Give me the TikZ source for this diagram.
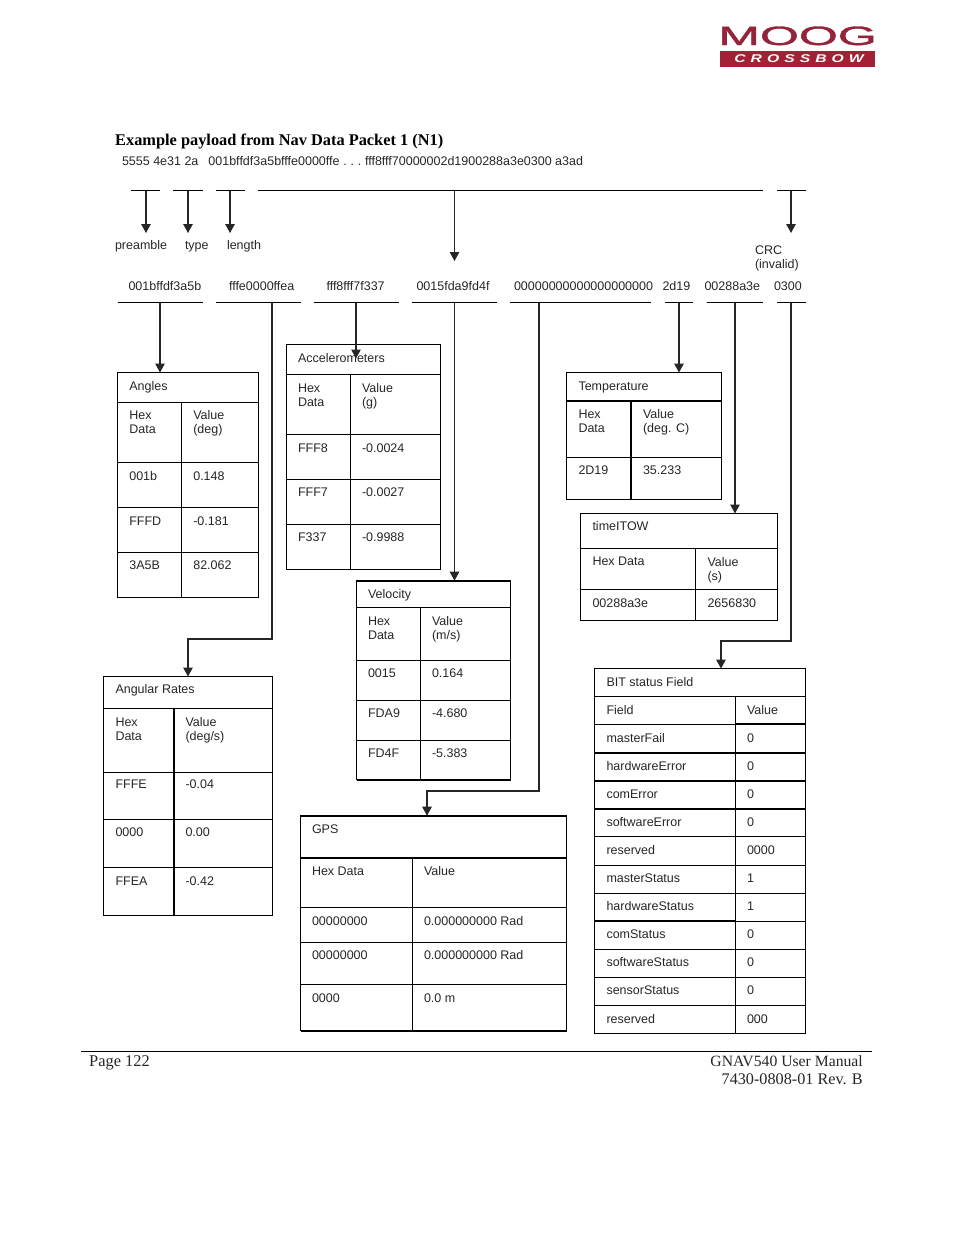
\documentclass[tikz,border=0pt]{standalone}
\usepackage{fontspec}
\usepackage{graphicx}
\setmainfont{Liberation Sans}
\newfontfamily\capfont{Liberation Serif}
\newfontfamily\moogfont[FakeBold=1.2]{Liberation Sans}
\newfontfamily\logofont[LetterSpace=32]{Liberation Sans}
\usetikzlibrary{arrows.meta}
\definecolor{inkc}{HTML}{262626}
\definecolor{logored}{HTML}{A32035}
\definecolor{moogred}{HTML}{94243A}
\tikzset{
  txt/.style={anchor=base west,inner sep=0pt,outer sep=0pt,text=inkc,align=left,font=\fontsize{12.5}{14}\selectfont},
  tbl/.style={draw=black,line width=1.1pt,inner sep=0pt,outer sep=0pt,anchor=north west},
  rule/.style={draw=black,line width=1.1pt},
  heavy/.style={draw=black,line width=2pt},
  busline/.style={draw=black,line width=1.2pt},
  conn/.style={draw=black!85,line width=1.25pt},
  arr/.style={conn,-{Triangle[width=9.5pt,length=9pt]}},
  titlefont/.style={anchor=base west,inner sep=0pt,font=\capfont\bfseries\fontsize{16.35}{18}\selectfont},
  footfont/.style={inner sep=0pt,text=inkc}
}
% table frame: name, x0, y0, x1, y1
\newcommand{\tframe}[6][]{\node[tbl,#1,minimum width={(#4-#2)*1pt},minimum height={(#5-#3)*1pt}] (#6) at (#2,#3) {};}
\newcommand{\rowl}[3][rule]{\draw[#1] (#2.west |- 0,#3) -- (#2.east |- 0,#3);}
% column line: table, x, y of its top end
\newcommand{\coll}[4][rule]{\draw[#1] (#3,#4) -- (#2.south -| #3,0);}
% cell: name, x, baseline y, text
\newcommand{\cellt}[4]{\node[txt] (#1) at (#2,#3) {#4};}
% bus bar: name, y, x-left, x-right, x-drop
\newcommand{\busbar}[5]{\coordinate (#1-l) at (#3,#2);\coordinate (#1-r) at (#4,#2);\coordinate (#1-o) at (#5,#2);\draw[busline] (#1-l) -- (#1-r);}
\begin{document}
\begin{tikzpicture}[x=1pt,y=-1pt]
\useasboundingbox (0,0) rectangle (954,1235);
% logo
\node[inner sep=0pt,anchor=base,text=moogred,font=\moogfont\fontsize{26.5}{28}\selectfont] (logoa) at (797.5,45) {\scalebox{1.89}[1]{MOOG}};
\node[fill=logored,inner sep=0pt,outer sep=0pt,anchor=north west,minimum width=155pt,minimum height=16pt] (logob) at (720,50.5) {};
\node[inner sep=0pt,anchor=base,text=white,font=\logofont\bfseries\itshape\fontsize{11.2}{12}\selectfont] (logoc) at (799,62) {\scalebox{1.4}[1]{CROSSBOW}};
% heading
\node[titlefont] (head) at (115,145) {Example payload from Nav Data Packet 1 (N1)};
\cellt{payload}{122}{165}{5555 4e31 2a\hspace{10pt}001bffdf3a5bfffe0000ffe\hspace{3.75pt}.\hspace{3.75pt}.\hspace{3.75pt}.\hspace{3.75pt}fff8fff70000002d1900288a3e0300 a3ad}
% upper bars
\busbar{ua}{190.5}{131}{160}{146}
\busbar{ub}{190.5}{173}{202.5}{188}
\busbar{uc}{190.5}{215.5}{244.5}{230}
\busbar{ud}{190.5}{258}{763}{454.5}
\busbar{ue}{190.5}{777}{806}{791}
\cellt{lpre}{115}{249}{preamble}
\cellt{ltyp}{185}{249}{type}
\cellt{llen}{227}{249}{length}
\cellt{lcrc}{755}{268.3}{CRC\\(invalid)}
\coordinate (ta) at (146,233);\coordinate (tb) at (188,233);\coordinate (tc) at (230,233);
\coordinate (td) at (454.5,261);\coordinate (te) at (791,233);
\draw[arr] (ua-o) -- (ta);
\draw[arr] (ub-o) -- (tb);
\draw[arr] (uc-o) -- (tc);
\draw[arr] (ud-o) -- (td);
\draw[arr] (ue-o) -- (te);
% hex row
\cellt{ha}{128.5}{290}{001bffdf3a5b}
\cellt{hb}{229}{290}{fffe0000ffea}
\cellt{hc}{326.5}{290}{fff8fff7f337}
\cellt{hd}{416.5}{290}{0015fda9fd4f}
\cellt{he}{514}{290}{00000000000000000000}
\cellt{hf}{662.5}{290}{2d19}
\cellt{hg}{704.5}{290}{00288a3e}
\cellt{hh}{774}{290}{0300}
% lower bars
\busbar{la}{302.7}{117.5}{202.5}{160}
\busbar{lb}{302.7}{216}{301}{272}
\busbar{lc}{302.7}{313.5}{399}{356}
\busbar{ld}{302.7}{412}{497}{454.5}
\busbar{le}{302.7}{510}{651}{539}
\busbar{lf}{302.7}{664.5}{693}{679}
\busbar{lg}{302.7}{706.5}{763}{735}
\busbar{lh}{302.7}{777}{806}{791}
% Angles
\tframe{117.5}{372.5}{258.5}{597.5}{angles}
\rowl{angles}{402.5}\rowl{angles}{462.5}\rowl{angles}{507.5}\rowl{angles}{552.5}\coll{angles}{181.5}{402.5}
\cellt{an0}{129.3}{390}{Angles}
\cellt{an1}{129.3}{433.5}{Hex\\Data}\cellt{an2}{193.3}{433.5}{Value\\(deg)}
\cellt{an3}{129.3}{480}{001b}\cellt{an4}{193.3}{480}{0.148}
\cellt{an5}{129.3}{525}{FFFD}\cellt{an6}{193.3}{525}{-0.181}
\cellt{an7}{129.3}{569}{3A5B}\cellt{an8}{193.3}{569}{82.062}
% Accelerometers
\tframe{286.5}{344.5}{440.5}{569.5}{accel}
\rowl{accel}{374.5}\rowl{accel}{434.5}\rowl{accel}{479.5}\rowl{accel}{524.5}\coll{accel}{350.5}{374.5}
\cellt{ac0}{298}{362}{Accelerometers}
\cellt{ac1}{298}{406}{Hex\\Data}\cellt{ac2}{362}{406}{Value\\(g)}
\cellt{ac3}{298}{452}{FFF8}\cellt{ac4}{362}{452}{-0.0024}
\cellt{ac5}{298}{496}{FFF7}\cellt{ac6}{362}{496}{-0.0027}
\cellt{ac7}{298}{541.5}{F337}\cellt{ac8}{362}{541.5}{-0.9988}
% Velocity
\tframe{356.5}{580.7}{510.5}{779.7}{veloc}
\rowl[heavy]{veloc}{580.7}\rowl[heavy]{veloc}{779.7}
\rowl{veloc}{607.5}\rowl{veloc}{660.5}\rowl{veloc}{700.5}\rowl{veloc}{740.5}\coll{veloc}{420.5}{607.5}
\cellt{ve0}{368}{598}{Velocity}
\cellt{ve1}{368}{639}{Hex\\Data}\cellt{ve2}{432}{639}{Value\\(m/s)}
\cellt{ve3}{368}{677.7}{0015}\cellt{ve4}{432}{677.7}{0.164}
\cellt{ve5}{368}{717}{FDA9}\cellt{ve6}{432}{717}{-4.680}
\cellt{ve7}{368}{757}{FD4F}\cellt{ve8}{432}{757}{-5.383}
% Angular rates
\tframe{103.5}{676.5}{272.5}{915.5}{rates}
\rowl{rates}{708.5}\rowl{rates}{772.5}\rowl{rates}{819.5}\rowl{rates}{867.5}\coll[heavy]{rates}{173.7}{708.5}
\cellt{ra0}{115.5}{693}{Angular Rates}
\cellt{ra1}{115.5}{740}{Hex\\Data}\cellt{ra2}{185.5}{740}{Value\\(deg/s)}
\cellt{ra3}{115.5}{788}{FFFE}\cellt{ra4}{185.5}{788}{-0.04}
\cellt{ra5}{115.5}{836.7}{0000}\cellt{ra6}{185.5}{836.7}{0.00}
\cellt{ra7}{115.5}{885}{FFEA}\cellt{ra8}{185.5}{885}{-0.42}
% Temperature
\tframe{566.5}{372.5}{721.5}{499.5}{temper}
\rowl[heavy]{temper}{401}\rowl{temper}{457.5}\coll[heavy]{temper}{631}{401}
\cellt{te0}{578.5}{390}{Temperature}
\cellt{te1}{578.5}{432}{Hex\\Data}\cellt{te2}{643}{432}{Value\\(deg. C)}
\cellt{te3}{578.5}{474}{2D19}\cellt{te4}{643}{474}{35.233}
% timeITOW
\tframe{580.5}{513.5}{777.5}{620.5}{itow}
\rowl{itow}{548.5}\rowl{itow}{589.5}\coll{itow}{695.5}{548.5}
\cellt{ti0}{592.5}{530}{timeITOW}
\cellt{ti1}{592.5}{565}{Hex Data}\cellt{ti2}{707.5}{580}{Value\\(s)}
\cellt{ti3}{592.5}{607}{00288a3e}\cellt{ti4}{707.5}{607}{2656830}
% BIT status
\tframe{594.5}{668.5}{805.5}{1033.5}{bits}
\rowl{bits}{696.5}
\draw[heavy] (735.5,724.3) -- (bits.east |- 0,724.3);\draw[rule] (bits.west |- 0,724.5) -- (735.5,724.5);
\rowl[heavy]{bits}{752.5}\rowl[heavy]{bits}{780.5}\rowl[heavy]{bits}{808.5}
\rowl{bits}{836.5}\rowl{bits}{865.5}\rowl{bits}{893.5}\rowl{bits}{949.5}\rowl{bits}{977.5}\rowl{bits}{1005.5}
\draw[heavy] (bits.west |- 0,921) -- (735.5,921);\draw[rule] (735.5,921.5) -- (bits.east |- 0,921.5);
\coll{bits}{735.5}{696.5}
\cellt{bi0}{606.5}{686}{BIT status Field}
\cellt{bi1}{606.5}{714}{Field}\cellt{bv1}{747}{714}{Value}
\cellt{bi2}{606.5}{742}{masterFail}\cellt{bv2}{747}{742}{0}
\cellt{bi3}{606.5}{770}{hardwareError}\cellt{bv3}{747}{770}{0}
\cellt{bi4}{606.5}{798}{comError}\cellt{bv4}{747}{798}{0}
\cellt{bi5}{606.5}{826}{softwareError}\cellt{bv5}{747}{826}{0}
\cellt{bi6}{606.5}{854}{reserved}\cellt{bv6}{747}{854}{0000}
\cellt{bi7}{606.5}{882}{masterStatus}\cellt{bv7}{747}{882}{1}
\cellt{bi8}{606.5}{910}{hardwareStatus}\cellt{bv8}{747}{910}{1}
\cellt{bi9}{606.5}{938}{comStatus}\cellt{bv9}{747}{938}{0}
\cellt{bia}{606.5}{966}{softwareStatus}\cellt{bva}{747}{966}{0}
\cellt{bib}{606.5}{994}{sensorStatus}\cellt{bvb}{747}{994}{0}
\cellt{bic}{606.5}{1023}{reserved}\cellt{bvc}{747}{1023}{000}
% GPS
\tframe{300.5}{815.7}{566.5}{1030.7}{gpst}
\rowl[heavy]{gpst}{815.7}\rowl[heavy]{gpst}{857.7}\rowl[heavy]{gpst}{1030.7}
\rowl{gpst}{907.5}\rowl{gpst}{942.5}\rowl{gpst}{984.5}
\coll{gpst}{412.5}{857.7}
\cellt{gp0}{312}{833}{GPS}
\cellt{gp1}{312}{875}{Hex Data}\cellt{gp2}{424}{875}{Value}
\cellt{gp3}{312}{925}{00000000}\cellt{gp4}{424}{925}{0.000000000 Rad}
\cellt{gp5}{312}{959}{00000000}\cellt{gp6}{424}{959}{0.000000000 Rad}
\cellt{gp7}{312}{1002}{0000}\cellt{gp8}{424}{1002}{0.0 m}
% connectors
\draw[arr] (la-o) -- (la-o |- angles.north);
\coordinate (rb1) at (272,639);\coordinate (rb2) at (188,639);
\draw[arr] (lb-o) -- (rb1) -- (rb2) -- (rb2 |- rates.north);
\coordinate (accin) at (356,358.5);
\draw[arr] (lc-o) -- (accin);
\draw[arr] (ld-o) -- (ld-o |- veloc.north);
\coordinate (rg1) at (539,791);\coordinate (rg2) at (427,791);
\draw[arr] (le-o) -- (rg1) -- (rg2) -- (rg2 |- gpst.north);
\draw[arr] (lf-o) -- (lf-o |- temper.north);
\draw[arr] (lg-o) -- (lg-o |- itow.north);
\coordinate (rh1) at (791,641);\coordinate (rh2) at (721,641);
\draw[arr] (lh-o) -- (rh1) -- (rh2) -- (rh2 |- bits.north);
% footer
\coordinate (fl) at (81,1051.5);\coordinate (fr) at (872,1051.5);
\draw[line width=1pt] (fl) -- (fr);
\node[footfont,anchor=base west,font=\capfont\fontsize{16.4}{18}\selectfont] (fa) at (89,1066) {Page 122};
\node[footfont,anchor=base east,font=\capfont\fontsize{15.7}{18}\selectfont] (fb) at (863,1066) {GNAV540 User Manual};
\node[footfont,anchor=base east,font=\capfont\fontsize{16.2}{18}\selectfont] (fc) at (863,1084) {7430-0808-01 Rev. B};
\end{tikzpicture}
\end{document}
